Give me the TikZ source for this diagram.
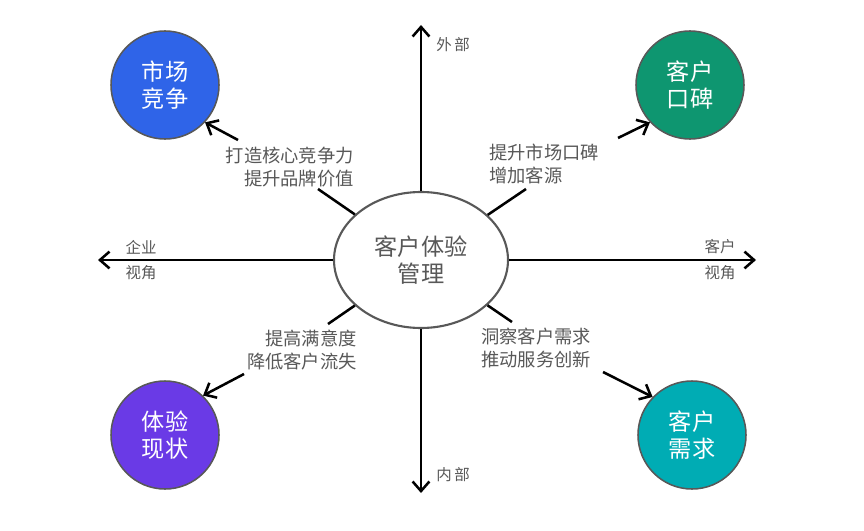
\documentclass[tikz,border=0pt]{standalone}
\usepackage{fontspec}
\setmainfont{Noto Sans CJK SC}
\usetikzlibrary{arrows.meta,shapes.geometric}
\definecolor{cxblue}{RGB}{47,100,232}
\definecolor{cxgreen}{RGB}{14,150,112}
\definecolor{cxpurple}{RGB}{106,58,230}
\definecolor{cxteal}{RGB}{0,172,180}
\definecolor{cxgray}{RGB}{88,88,88}
\tikzset{
  cxhub/.style ={ellipse, draw=cxgray, fill=white, line width=1.5pt,
                 minimum width=4.35cm, minimum height=3.4cm, inner sep=0pt,
                 align=center, text=cxgray, font=\fontsize{16.5}{19.5}\selectfont},
  cxball/.style={circle, draw=cxgray, line width=1.1pt, minimum size=2.7cm,
                 inner sep=0pt, align=center, text=white,
                 font=\fontsize{16.5}{19.5}\selectfont},
  cxaxis/.style={line width=1.8pt, black, -{Straight Barb[length=2.4mm,width=4.2mm]}},
  cxline/.style={line width=1.8pt, black},
  cxarr/.style ={line width=1.8pt, black, -{Straight Barb[length=2.4mm,width=4.2mm]}},
  cxtext/.style={text=cxgray, font=\fontsize{13}{15.8}\selectfont, inner sep=0pt},
  cxtag/.style ={text=cxgray, font=\fontsize{11}{13}\selectfont, inner sep=0pt},
}

\begin{document}
\begin{tikzpicture}[x=0.25mm, y=-0.25mm]
  \useasboundingbox (0,0) rectangle (864,531);

  % axes
  \coordinate (up)    at (421,25);
  \coordinate (down)  at (421,493);
  \coordinate (left)  at (98,260);
  \coordinate (right) at (756,260);

  \node[cxhub] (hub) at (421,260) {客户体验\\管理};
  \draw[cxaxis] (hub) -- (up);
  \draw[cxaxis] (hub) -- (down);
  \draw[cxaxis] (hub) -- (left);
  \draw[cxaxis] (hub) -- (right);

  \node[cxtag] (outer) at (453,45)  {外\,部};
  \node[cxtag] (inner) at (453,475) {内\,部};
  \node[cxtag] (entA)  at (141,247) {企业};
  \node[cxtag] (entB)  at (141,273) {视角};
  \node[cxtag] (cusA)  at (720,247) {客户};
  \node[cxtag] (cusB)  at (720,273) {视角};

  % four corners
  \node[cxball, fill=cxblue]   (mkt)  at (165,85)  {市场\\竞争};
  \node[cxball, fill=cxgreen]  (wom)  at (690,85)  {客户\\口碑};
  \node[cxball, fill=cxpurple] (cur)  at (165,435) {体验\\现状};
  \node[cxball, fill=cxteal]   (need) at (692,435) {客户\\需求};

  \node[cxtext, anchor=east, align=right] (tlt) at (354,167) {打造核心竞争力\\提升品牌价值};
  \node[cxtext, anchor=west, align=left]  (trt) at (489,164) {提升市场口碑\\增加客源};
  \node[cxtext, anchor=east, align=right] (blt) at (357,350) {提高满意度\\降低客户流失};
  \node[cxtext, anchor=west, align=left]  (brt) at (481,348) {洞察客户需求\\推动服务创新};

  \coordinate (tl1) at (318,189);  \coordinate (tl2) at (238,140);
  \coordinate (tr1) at (526,189);  \coordinate (tr2) at (618,138);
  \coordinate (bl1) at (328,324);  \coordinate (bl2) at (244,374);
  \coordinate (br1) at (512,322);  \coordinate (br2) at (603,372);

  \draw[cxline] (hub) -- (tl1);
  \draw[cxline] (hub) -- (tr1);
  \draw[cxline] (hub) -- (bl1);
  \draw[cxline] (hub) -- (br1);
  \draw[cxarr] (tl2) -- (mkt.-43);
  \draw[cxarr] (tr2) -- (wom.-137);
  \draw[cxarr] (bl2) -- (cur.46);
  \draw[cxarr] (br2) -- (need.136);
\end{tikzpicture}
\end{document}
